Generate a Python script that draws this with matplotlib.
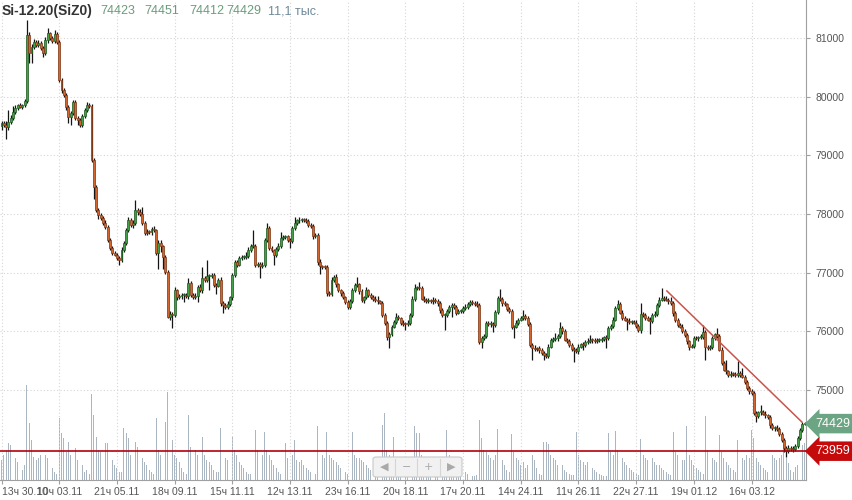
import matplotlib.pyplot as plt
import numpy as np
from matplotlib.patches import FancyBboxPatch

plt.rcParams['font.family'] = ['Liberation Sans', 'DejaVu Sans']

# hourly candles, 30.10 13h .. 04.12 11h (close prices)
first_open = 79500
closes = [
    79550, 79520, 79480, 79570, 79640, 79740, 79810, 79850, 79830, 79850, 79920,
    81050, 80750, 80850, 80930, 80880, 80910, 80830, 80740, 80960, 81080, 81000, 80950, 81070, 80930,
    80280, 80110, 80030, 79820, 79650, 79720, 79910, 79640, 79600, 79520, 79670, 79770, 79860, 79840,
    78920, 78460, 78070, 77980, 77930, 77850, 77780, 77560, 77420, 77340, 77310, 77250, 77220, 77390,
    77510, 77730, 77900, 77810, 77850, 78070, 78030, 78000, 77850, 77680, 77700, 77690, 77740, 77720,
    77340, 77510, 77450, 77270, 77010, 76250, 76300, 76280, 76700, 76580, 76600, 76620, 76620, 76600,
    76830, 76620, 76590, 76610, 76760, 76700, 76910, 76880, 76940, 76940, 76960, 76790, 76780, 76880,
    76480, 76450, 76420, 76470, 76580, 76960, 77180, 77140, 77250, 77270, 77270, 77280, 77390, 77460,
    77460, 77130, 77150, 77110, 77140, 77550, 77760, 77420, 77380, 77300, 77400, 77460, 77590, 77610,
    77620, 77550, 77540, 77760, 77850, 77890, 77900, 77910, 77900, 77880, 77820, 77790, 77620, 77640,
    77180, 77110, 77100, 77090, 76650, 76640, 76880, 76930, 76800, 76700, 76650, 76580, 76500, 76420,
    76520, 76710, 76790, 76800, 76680, 76530, 76580, 76700, 76620, 76590, 76560, 76530, 76510, 76490,
    76280, 76140, 75900, 75950, 76080, 76160, 76250, 76220, 76150, 76130, 76120, 76150, 76280, 76560,
    76740, 76750, 76740, 76560, 76540, 76520, 76530, 76510, 76540, 76520, 76480, 76360, 76280, 76280,
    76350, 76420, 76450, 76420, 76320, 76350, 76350, 76400, 76420, 76470, 76500, 76480, 76470, 76450,
    75820, 75880, 75920, 76140, 76120, 76130, 76110, 76330, 76570, 76550, 76480, 76460, 76380, 76340,
    76080, 76080, 76150, 76200, 76230, 76260, 76230, 76130, 75770, 75720, 75700, 75710, 75680, 75630,
    75600, 75580, 75740, 75860, 75870, 75880, 75920, 76060, 76000, 75860, 75840, 75770, 75700, 75680,
    75660, 75740, 75780, 75770, 75820, 75840, 75860, 75850, 75840, 75850, 75860, 75870, 75900, 75890,
    76060, 76100, 76200, 76400, 76470, 76320, 76230, 76200, 76180, 76160, 76160, 76150, 76090, 76020,
    76300, 76280, 76230, 76200, 76180, 76280, 76300, 76450, 76540, 76570, 76560, 76540, 76510, 76480,
    76310, 76190, 76110, 76080, 76010, 75940, 75830, 75740, 75750, 75890, 75880, 75900, 75910, 75990,
    75730, 75720, 75740, 75880, 75950, 75920, 75690, 75460, 75350, 75320, 75260, 75280, 75270, 75260,
    75290, 75260, 75230, 75140, 75040, 74980, 74950, 74610, 74560, 74620, 74630, 74600, 74570, 74540,
    74400, 74350, 74360, 74340, 74260, 74150, 74010, 73970, 74020, 73990, 74000, 74050, 74180, 74320,
    74423, 74429,
]
# wick length above / below the body
up_tail = [
    40, 30, 60, 200, 50, 100, 40, 30, 40, 30, 40, 250, 60, 40, 60, 40, 50, 30, 40, 60,
    90, 30, 40, 70, 30, 40, 30, 40, 30, 40, 40, 40, 30, 30, 30, 40, 30, 50, 40, 40,
    30, 40, 30, 40, 30, 40, 30, 30, 40, 30, 30, 30, 40, 30, 40, 50, 30, 40, 170, 40,
    50, 120, 30, 40, 30, 40, 60, 30, 40, 40, 30, 40, 30, 40, 30, 50, 30, 30, 40, 30,
    30, 80, 30, 30, 40, 30, 40, 190, 30, 280, 30, 40, 30, 40, 30, 40, 30, 30, 40, 30,
    40, 40, 30, 40, 30, 40, 70, 40, 30, 270, 30, 40, 30, 40, 40, 90, 30, 30, 30, 40,
    40, 110, 30, 30, 30, 40, 40, 100, 30, 50, 30, 30, 40, 30, 30, 40, 30, 40, 60, 30,
    30, 40, 30, 40, 30, 40, 30, 30, 40, 30, 30, 40, 30, 40, 130, 30, 40, 30, 60, 30,
    30, 30, 40, 80, 30, 30, 40, 30, 40, 30, 40, 70, 30, 30, 40, 30, 40, 30, 40, 60,
    30, 100, 30, 40, 30, 40, 30, 40, 30, 30, 30, 40, 30, 40, 30, 40, 30, 30, 40, 30,
    30, 40, 30, 40, 30, 30, 40, 30, 40, 30, 40, 30, 40, 30, 40, 40, 150, 30, 40, 30,
    30, 40, 30, 40, 30, 40, 110, 30, 40, 30, 30, 40, 30, 40, 30, 40, 30, 40, 30, 40,
    100, 30, 100, 30, 40, 30, 30, 40, 30, 30, 40, 30, 40, 30, 40, 80, 30, 40, 30, 30,
    40, 30, 40, 40, 30, 40, 30, 60, 30, 40, 30, 30, 40, 30, 30, 40, 30, 180, 30, 40,
    30, 40, 30, 40, 30, 40, 170, 30, 40, 30, 80, 30, 40, 30, 30, 40, 30, 40, 30, 40,
    30, 40, 30, 40, 120, 30, 40, 30, 40, 30, 100, 30, 40, 30, 170, 30, 40, 30, 40, 210,
    30, 120, 30, 40, 30, 40, 30, 40, 30, 120, 30, 40, 30, 30, 40, 30, 40, 30, 30, 40,
    30, 40, 30, 40, 30, 40, 30, 30, 22,
]
dn_tail = [
    60, 40, 200, 40, 30, 40, 30, 40, 30, 40, 30, 30, 180, 180, 40, 30, 40, 30, 60, 30,
    40, 30, 40, 30, 40, 30, 40, 30, 40, 100, 130, 30, 40, 80, 40, 30, 40, 30, 40, 40,
    200, 40, 60, 40, 30, 40, 40, 30, 40, 30, 40, 80, 30, 40, 30, 40, 30, 40, 30, 40,
    30, 40, 30, 40, 30, 40, 30, 40, 280, 100, 200, 40, 30, 60, 220, 30, 40, 30, 40, 120,
    30, 40, 30, 40, 30, 110, 30, 40, 30, 40, 240, 30, 40, 140, 30, 40, 130, 30, 40, 30,
    40, 30, 40, 30, 40, 30, 40, 30, 30, 40, 30, 40, 200, 30, 40, 30, 40, 30, 170, 30,
    30, 40, 30, 40, 30, 120, 30, 40, 30, 40, 30, 40, 30, 40, 30, 40, 30, 40, 130, 40,
    30, 40, 30, 40, 30, 40, 30, 40, 30, 40, 30, 40, 30, 40, 30, 40, 30, 40, 30, 40,
    30, 40, 30, 40, 30, 40, 30, 40, 180, 30, 30, 40, 30, 40, 30, 90, 30, 40, 30, 40,
    30, 40, 30, 40, 30, 40, 30, 40, 30, 40, 40, 30, 250, 40, 30, 180, 30, 40, 30, 40,
    30, 40, 30, 40, 30, 40, 30, 40, 110, 30, 40, 30, 40, 120, 30, 40, 30, 40, 30, 40,
    30, 40, 190, 30, 40, 30, 40, 30, 40, 30, 210, 40, 30, 40, 30, 90, 30, 40, 30, 40,
    30, 40, 30, 40, 30, 40, 30, 40, 200, 30, 40, 30, 90, 30, 40, 30, 40, 30, 40, 30,
    40, 30, 170, 40, 30, 40, 30, 40, 30, 40, 30, 150, 30, 40, 30, 40, 30, 40, 30, 40,
    30, 230, 30, 40, 30, 40, 30, 40, 30, 40, 30, 40, 30, 40, 30, 40, 30, 40, 60, 30,
    40, 30, 40, 30, 40, 220, 40, 30, 40, 30, 40, 30, 40, 30, 40, 30, 40, 30, 40, 30,
    40, 30, 40, 30, 40, 30, 40, 110, 30, 40, 30, 40, 30, 40, 30, 40, 30, 40, 30, 70,
    110, 40, 30, 40, 30, 40, 30, 30, 11,
]
# volume, thousands of contracts
volume = [
    6, 7.5, 9, 11, 10.5, 8.4, 6.6, 5.4, 3.6, 3, 4.5,
    28.5, 17, 12, 7, 6, 6.6, 7.5, 8.4, 7.5, 6.6, 4.5, 3.6, 2.4, 1.8,
    18.6, 14, 12.6, 8.4, 11.4, 7.5, 9, 9.6, 6, 5.4, 4.5, 2.4, 3, 1.8,
    25.8, 19.5, 13, 9, 8.4, 7.5, 11, 11, 7.5, 6, 4.5, 3.6, 2.4, 2.4,
    15.6, 14, 12.6, 7.5, 8.4, 11.4, 10, 9, 6.6, 5.4, 4.5, 3, 2.4, 1.8,
    18.6, 9, 7.5, 10, 17.4, 26.4, 14.4, 12, 7.5, 6.6, 5.4, 3.6, 2.4, 1.8,
    19.5, 10, 10, 9, 7.5, 6.6, 12.9, 7.5, 6, 5.4, 4.5, 3, 2.4, 2.4,
    15.6, 7.5, 6.6, 6, 7.5, 12.9, 9, 7.5, 5.4, 4.5, 3.6, 2.4, 1.8, 1.8,
    15.3, 15, 9, 8.4, 7.5, 14.4, 9, 7.5, 6, 4.5, 3.6, 2.4, 1.8, 1.5,
    11, 6.6, 6, 7.5, 12, 6, 5.4, 6, 4.5, 3.6, 3, 2.4, 1.8, 1.8,
    16.2, 15, 7.5, 6.6, 14.4, 7.5, 6.6, 6, 5.4, 4.5, 3.6, 3, 2.4, 1.8,
    13.8, 14.4, 7.5, 6.6, 6.6, 6, 5.4, 4.5, 3.6, 3, 2.4, 1.8, 1.5, 1.5,
    16.5, 20, 9, 7.5, 6.6, 13, 6.6, 5.4, 4.5, 3.6, 3, 2.4, 1.8, 1.5,
    16.2, 14, 14, 7.5, 6.6, 6, 5.4, 4.5, 4.5, 3, 2.4, 2.4, 1.8, 1.5,
    15, 7.5, 6.6, 6, 4.5, 5.4, 3.6, 3, 2.4, 1.8, 1.5, 1.2, 1.2, 1.5,
    18, 12.6, 9, 8.4, 7.5, 6.6, 6, 7.5, 15.3, 9, 6, 4.5, 3, 2.4,
    13.8, 8.4, 6.6, 6, 4.5, 5.4, 3.6, 4.5, 12.6, 7.5, 6, 3.6, 1.8, 1.5,
    11.4, 11.4, 10.8, 7.5, 6.6, 6, 4.5, 5.4, 4.5, 3, 2.4, 1.8, 1.5, 1.5,
    14.4, 7.5, 6, 5.4, 4.5, 5.4, 4.5, 3.6, 3, 2.4, 1.8, 1.5, 1.2, 1.2,
    14, 8.4, 7.5, 14.7, 9, 7.5, 6.6, 5.4, 4.5, 3.6, 3, 2.4, 1.8, 1.5,
    12.3, 7.5, 6.6, 6, 12.6, 6.6, 5.4, 4.5, 4.5, 3.6, 3, 2.4, 1.8, 1.5,
    14.4, 8.4, 7.5, 6.6, 6, 6, 16.2, 7.5, 6, 4.5, 3.6, 3, 2.4, 1.8,
    19.2, 9, 7.5, 6.6, 6, 5.4, 13.5, 8.4, 6.6, 5.4, 4.5, 3.6, 3, 2.4,
    12, 7.5, 6.6, 6, 7.5, 6.6, 15, 12.6, 6.6, 5.4, 4.5, 3.6, 3, 2.4,
    14.4, 7.5, 6.6, 6, 6.6, 7.5, 10.5, 6.6, 5.1, 3, 2.4, 3.9, 4.5, 6.6, 10.5, 11.1,
]

x_labels = ["13ч 30.10", "10ч 03.11", "21ч 05.11", "18ч 09.11", "15ч 11.11", "12ч 13.11",
            "23ч 16.11", "20ч 18.11", "17ч 20.11", "14ч 24.11", "11ч 26.11", "22ч 27.11",
            "19ч 01.12", "16ч 03.12"]
candles_per_label = 25
price_ticks = [75000, 76000, 77000, 78000, 79000, 80000, 81000]
support_level = 73959
trend_x = [288.3, 346.8]
trend_y = [76690, 74457]
last_o, last_h, last_l, last_c = 74423, 74451, 74412, 74429
last_vol = "11,1 тыс."

opens = np.array([first_open] + closes[:-1], dtype=float)
c = np.array(closes, dtype=float)
hi = np.maximum(opens, c) + np.array(up_tail)
lo = np.minimum(opens, c) - np.array(dn_tail)
idx = np.arange(len(c))
rising = c >= opens

fig = plt.figure(figsize=(8.53, 5.0), dpi=100)
rect = [0, 0.04, 806 / 853, 0.96]
vax = fig.add_axes(rect)
ax = fig.add_axes(rect, sharex=vax)
ax.patch.set_alpha(0)

# volume underneath
vax.bar(idx, volume, width=0.38, color='#aab7c3', zorder=1)
vax.set_ylim(0, 144)
vax.axis('off')

# grid
for k in range(len(x_labels)):
    ax.axvline(k * candles_per_label, color='#d6d6d6', lw=0.8, ls=(0, (1, 2)), zorder=0)
for p in price_ticks:
    ax.axhline(p, color='#d6d6d6', lw=0.8, ls=(0, (1, 2)), zorder=0)

# candles
ax.vlines(idx, lo, hi, color='#151515', lw=0.9, zorder=2)
body = np.maximum(np.abs(c - opens), 16)
bottom = np.minimum(opens, c)
ax.bar(idx[rising], body[rising], bottom=bottom[rising], width=0.85,
       color='#43a047', edgecolor='#1d5a20', lw=0.5, zorder=3)
ax.bar(idx[~rising], body[~rising], bottom=bottom[~rising], width=0.85,
       color='#d3662f', edgecolor='#7f3614', lw=0.5, zorder=3)

ax.plot(trend_x, trend_y, color='#c9544c', lw=1.1, zorder=4)
ax.axhline(support_level, color='#b3000c', lw=1.2, zorder=4)

ax.set_xlim(-0.65, 348.6)
ax.set_ylim(73468, 81647)

ax.yaxis.tick_right()
ax.set_yticks(price_ticks)
ax.set_yticklabels([str(p) for p in price_ticks])
ax.set_xticks([k * candles_per_label for k in range(len(x_labels))])
ax.set_xticklabels(x_labels)
ax.get_xticklabels()[0].set_horizontalalignment('left')
ax.tick_params(axis='y', length=3, pad=4, color='#a0a0a0', labelcolor='#555555', labelsize=7.5)
ax.tick_params(axis='x', length=3, pad=2, color='#a0a0a0', labelcolor='#555555', labelsize=7.5)
for s in ['top', 'left']:
    ax.spines[s].set_visible(False)
for s in ['right', 'bottom']:
    ax.spines[s].set_color('#a0a0a0')
    ax.spines[s].set_linewidth(0.8)

# price tags on the right
tr = ax.get_yaxis_transform()
ax.text(1.012, last_c, str(last_c), transform=tr, ha='left', va='center', color='white',
        fontsize=9, clip_on=False, zorder=6,
        bbox=dict(boxstyle='larrow,pad=0.3', fc='#6ba583', ec='none'))
ax.text(1.012, support_level, str(support_level), transform=tr, ha='left', va='center',
        color='white', fontsize=9, clip_on=False, zorder=6,
        bbox=dict(boxstyle='larrow,pad=0.3', fc='#c40a0a', ec='none'))

# header
fy = 1 - 11 / 500
fig.text(2 / 853, fy, "Si-12.20(SiZ0)", fontsize=10, fontweight='bold', color='#333333', va='center')
for xpx, v in zip([100, 144, 189, 226], [last_o, last_h, last_l, last_c]):
    fig.text(xpx / 853, fy, str(v), fontsize=9, color='#6a9c7c', va='center')
fig.text(268 / 853, fy, last_vol, fontsize=9, color='#6f8a9b', va='center')

# scroll / zoom widget
wx, wy, ww, wh = 373 / 853, 23 / 500, 89 / 853, 20 / 500
fig.patches.append(FancyBboxPatch((wx, wy), ww, wh, boxstyle='round,pad=0,rounding_size=0.004',
                                  transform=fig.transFigure, fc='#f1f1f1', ec='#c9c9c9', lw=0.8))
for k, g in enumerate(["◀", "−", "+", "▶"]):
    fig.text(wx + (k + 0.5) * ww / 4, wy + wh / 2, g, ha='center', va='center',
             fontsize=8, color='#a9a9a9', family='DejaVu Sans')
    if k:
        fig.add_artist(plt.Line2D([wx + k * ww / 4] * 2, [wy + 0.004, wy + wh - 0.004],
                                  transform=fig.transFigure, color='#d5d5d5', lw=0.8))

fig.savefig('out.png', dpi=100, facecolor='white')
